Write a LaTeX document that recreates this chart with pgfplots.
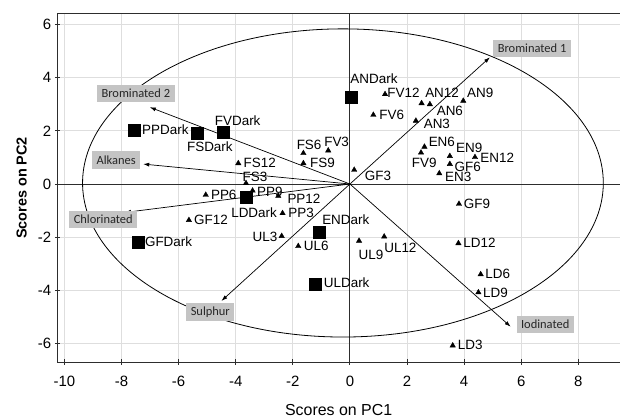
\documentclass[border=0pt]{standalone}
\usepackage{fontspec}
\setmainfont{Liberation Sans}
\newfontfamily\boxfont{Carlito}
\usepackage{pgfplots}
\pgfplotsset{compat=1.18}
\usepackage{pgfplotstable}
\usetikzlibrary{arrows.meta}
\definecolor{gridgray}{RGB}{222,222,222}
\definecolor{boxgray}{RGB}{196,196,196}
\definecolor{axisdark}{RGB}{45,45,45}
\newcommand{\lbl}{\fontsize{13.5}{15}\selectfont}

\pgfplotstableread{
x y label dx dy
-7.57 2.03 PPDark 31.5 0
-5.35 1.91 FSDark 12.7 -13.4
-4.44 1.95 FVDark 14.5 11.6
0.06 3.25 ANDark 22.3 19.4
-3.62 -0.48 LDDark 7.5 -15.6
-1.09 -1.80 ENDark 27 12.4
-7.42 -2.20 GFDark 30.5 0.5
-1.20 -3.77 ULDark 31 1.5
}\darkpts

\pgfplotstableread{
x y label dx dy
1.23 3.38 FV12 18.5 1
2.51 3.04 AN12 20.5 10
2.80 3.00 AN6 20 -6.7
3.97 3.13 AN9 17 7.7
2.31 2.38 AN3 21 -2.6
0.82 2.60 FV6 18.4 0
-1.63 1.16 FS6 5.7 8.3
-0.76 1.26 FV3 8.4 8.4
-1.63 0.78 FS9 19 0.3
0.15 0.53 GF3 23.7 -5.7
2.61 1.40 EN6 17.4 5
2.49 1.18 FV9 3.2 -10.6
3.50 1.05 EN9 19.3 8.3
3.50 0.75 GF6 17.8 -2.9
4.38 1.01 EN12 22.3 -0.4
3.13 0.40 EN3 19 -3.4
-3.91 0.78 FS12 21.4 0.3
-3.64 0.03 FS3 9 6.6
-5.05 -0.41 PP6 18 0.3
-3.41 -0.25 PP9 17.3 -1
-2.51 -0.45 PP12 25.7 -3
-2.36 -1.10 PP3 18.5 0
-5.64 -1.36 GF12 22 0
-2.39 -1.96 UL3 -16.7 -0.7
-1.81 -2.34 UL6 18 0
0.32 -2.14 UL9 12 -14.3
1.20 -1.98 UL12 16.2 -11.3
3.82 -0.75 GF9 18 0
3.80 -2.23 LD12 21 0
4.58 -3.40 LD6 17 0
4.50 -4.08 LD9 17 0
3.60 -6.08 LD3 17.6 0.3
}\lightpts

\begin{document}
\begin{tikzpicture}
\begin{axis}[
  scale only axis,
  width=562.7bp, height=348bp,
  xmin=-10.25, xmax=9.46, ymin=-6.70, ymax=6.40,
  axis x line*=box, axis y line*=left,
  xtick={-10,-8,...,8}, ytick={-6,-4,...,6},
  xtick pos=bottom, ytick pos=left,
  tick align=center, major tick length=5bp,
  tick style={axisdark, line width=0.9bp},
  axis line style={axisdark, line width=1bp},
  grid=major, major grid style={gridgray, line width=0.9bp},
  /pgf/number format/assume math mode=true,
  tick label style={font=\fontsize{15}{17}\selectfont, text=black},
  xticklabel style={yshift=-8bp},
  xlabel={Scores on PC1}, ylabel={\bfseries Scores on PC2},
  xlabel style={font=\fontsize{16}{18}\selectfont, at={(axis description cs:0.5,-0.1370)}, anchor=center},
  ylabel style={font=\fontsize{14.5}{17}\selectfont, at={(axis description cs:-0.0633,0.5)}, anchor=center},
  clip=true,
]
% origin lines
\draw[axisdark, line width=0.9bp] (axis cs:0,-6.70) -- (axis cs:0,6.40);
\draw[axisdark, line width=0.9bp] (axis cs:-10.25,0) -- (axis cs:9.46,0);
% ellipse
\draw[black, line width=0.8bp] (axis cs:-0.245,0.04) ellipse [x radius=9.12, y radius=5.80];
% loading vectors
\addplot[black, line width=0.7bp, -{Latex[length=6bp,width=4bp]}] coordinates {(0,0) (4.905,4.77)};
\addplot[black, line width=0.7bp, -{Latex[length=6bp,width=4bp]}] coordinates {(0,0) (-7.01,2.89)};
\addplot[black, line width=0.7bp, -{Latex[length=6bp,width=4bp]}] coordinates {(0,0) (-7.24,0.75)};
\addplot[black, line width=0.7bp, -{Latex[length=6bp,width=4bp]}] coordinates {(0,0) (-7.88,-1.07)};
\addplot[black, line width=0.7bp, -{Latex[length=6bp,width=4bp]}] coordinates {(0,0) (-4.50,-4.40)};
\addplot[black, line width=0.7bp, -{Latex[length=6bp,width=4bp]}] coordinates {(0,0) (5.63,-5.37)};
% vector labels
\tikzset{vbox/.style={fill=boxgray, text=black!85, font=\boxfont\fontsize{12.5}{14}\selectfont, inner xsep=4.5bp, inner ysep=0pt, minimum height=17.5bp, anchor=center}}
\node[vbox] at (axis cs:6.38,5.10) {Brominated 1};
\node[vbox] at (axis cs:-7.50,3.40) {Brominated 2};
\node[vbox] at (axis cs:-8.19,0.90) {Alkanes};
\node[vbox] at (axis cs:-8.64,-1.33) {Chlorinated};
\node[vbox] at (axis cs:-4.89,-4.82) {Sulphur};
\node[vbox] at (axis cs:6.84,-5.28) {Iodinated};
% scores
\addplot[only marks, mark=square*, mark size=6bp, black,
  point meta=explicit symbolic, nodes near coords,
  visualization depends on={\thisrow{dx}\as\dx},
  visualization depends on={\thisrow{dy}\as\dy},
  every node near coord/.append style={anchor=center, inner sep=0pt, xshift=\dx bp, yshift=\dy bp, font=\lbl, text=black}]
  table[x=x, y=y, meta=label] {\darkpts};
\addplot[only marks, mark=triangle*, mark size=3.1bp, black,
  point meta=explicit symbolic, nodes near coords,
  visualization depends on={\thisrow{dx}\as\dx},
  visualization depends on={\thisrow{dy}\as\dy},
  every node near coord/.append style={anchor=center, inner sep=0pt, xshift=\dx bp, yshift=\dy bp, font=\lbl, text=black}]
  table[x=x, y=y, meta=label] {\lightpts};
\end{axis}
\pgfresetboundingbox
\path[use as bounding box] ([xshift=-57.3bp,yshift=-55bp]current axis.south west) rectangle ([yshift=14bp]current axis.north east);
\end{tikzpicture}
\end{document}
